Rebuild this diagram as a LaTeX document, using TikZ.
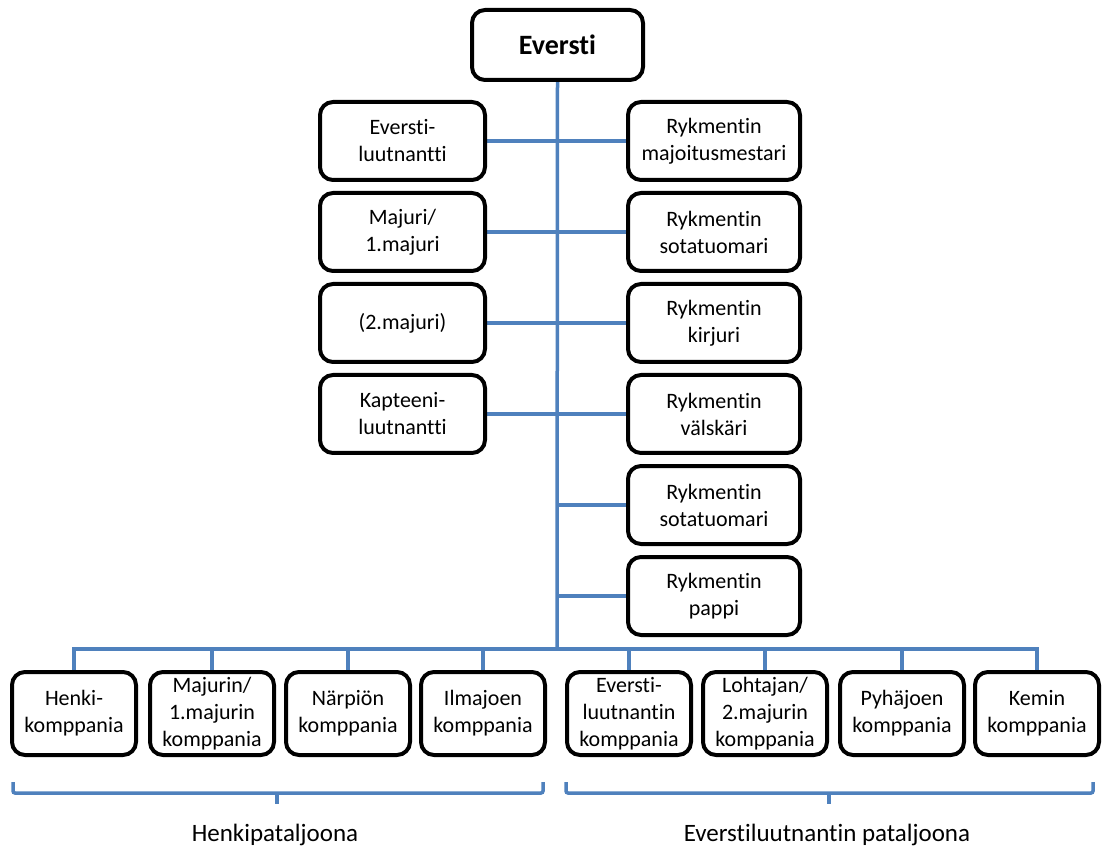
\documentclass[tikz,border=0pt]{standalone}
\usepackage{fontspec}
\setmainfont[Ligatures={NoCommon}]{Carlito}
\usetikzlibrary{backgrounds}
\definecolor{lineblue}{HTML}{4F81BD}
\begin{document}
\begin{tikzpicture}[x=1pt,y=-1pt,
  box/.style={draw=black, line width=4pt, rounded corners=13pt, fill=white,
    align=center, inner sep=0pt, font=\fontsize{22}{27}\selectfont},
  lbox/.style={box, minimum width=165pt, minimum height=78pt},
  rbox/.style={box, minimum width=172pt, minimum height=78pt},
  bbox/.style={box, minimum width=124pt, minimum height=83pt},
  conn/.style={draw=lineblue, line width=3.5pt},
  brace/.style={draw=lineblue, line width=3.5pt, rounded corners=2pt},
  lab/.style={font=\fontsize{25}{30}\selectfont}]
\useasboundingbox (0,0) rectangle (1104,850);

\node[box, minimum width=171pt, minimum height=70pt, font=\fontsize{28}{34}\selectfont\bfseries] (ev) at (557.5,45) {Eversti};

\node[lbox] (l1) at (402.5,141) {Eversti-\\luutnantti};
\node[lbox] (l2) at (402.5,232) {Majuri/\\1.majuri};
\node[lbox] (l3) at (402.5,323) {(2.majuri)};
\node[lbox] (l4) at (402.5,414) {Kapteeni-\\luutnantti};

\node[rbox] (r1) at (714,141) {Rykmentin\\majoitusmestari};
\node[rbox] (r2) at (714,232) {Rykmentin\\sotatuomari};
\node[rbox] (r3) at (714,323) {Rykmentin\\kirjuri};
\node[rbox] (r4) at (714,414) {Rykmentin\\välskäri};
\node[rbox] (r5) at (714,505) {Rykmentin\\sotatuomari};
\node[rbox] (r6) at (714,596) {Rykmentin\\pappi};

\node[bbox] (b1) at (74,713.5) {Henki-\\komppania};
\node[bbox] (b2) at (212,713.5) {Majurin/\\1.majurin\\komppania};
\node[bbox] (b3) at (348,713.5) {Närpiön\\komppania};
\node[bbox] (b4) at (483,713.5) {Ilmajoen\\komppania};
\node[bbox] (b5) at (629,713.5) {Eversti-\\luutnantin\\komppania};
\node[bbox] (b6) at (765,713.5) {Lohtajan/\\2.majurin\\komppania};
\node[bbox] (b7) at (902,713.5) {Pyhäjoen\\komppania};
\node[bbox] (b8) at (1037,713.5) {Kemin\\komppania};

\coordinate (busc) at (557,649);

\begin{scope}[on background layer]
\draw[conn] (ev.south) -- (busc);
\draw[conn] (l1.east) -- (r1.west);
\draw[conn] (l2.east) -- (r2.west);
\draw[conn] (l3.east) -- (r3.west);
\draw[conn] (l4.east) -- (r4.west);
\draw[conn] (r5.west) -- (r5.west -| busc);
\draw[conn] (r6.west) -- (r6.west -| busc);
\draw[conn] (b1.north) -- (b1.north |- busc) -- (b8.north |- busc) -- (b8.north);
\foreach \b in {b2,b3,b4,b5,b6,b7} \draw[conn] (\b.north) -- (\b.north |- busc);
\end{scope}

\coordinate (la) at (13,782);
\coordinate (lb) at (543,782);
\coordinate (lm) at (277,793);
\coordinate (ra) at (566,782);
\coordinate (rb) at (1093,782);
\coordinate (rm) at (829,793);
\draw[brace] (la) -- (la |- lm) -- (lb |- lm) -- (lb);
\draw[conn] (lm) -- ++(0,11);
\draw[brace] (ra) -- (ra |- rm) -- (rb |- rm) -- (rb);
\draw[conn] (rm) -- ++(0,11);

\node[lab] (t1) at (275,835) {Henkipataljoona};
\node[lab] (t2) at (827,835) {Everstiluutnantin pataljoona};
\end{tikzpicture}
\end{document}
